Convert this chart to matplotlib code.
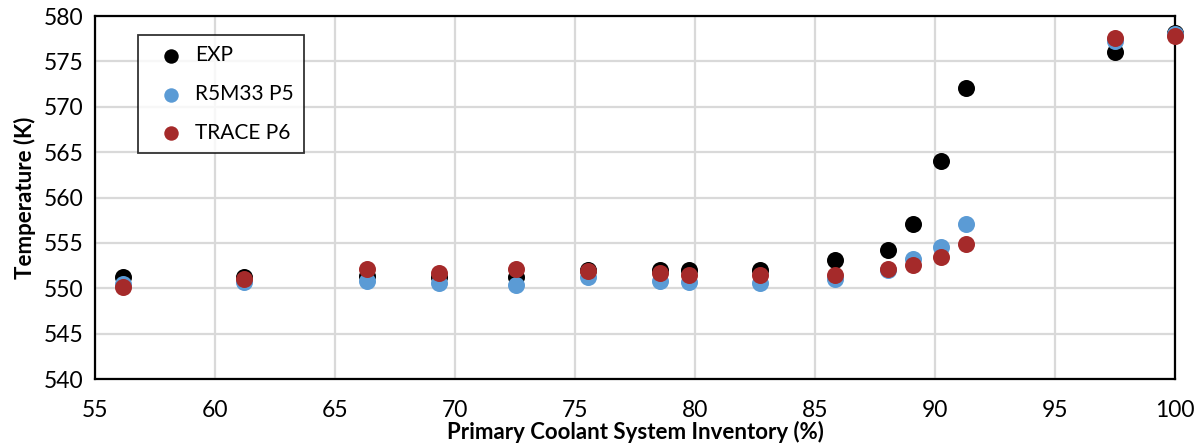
import matplotlib.pyplot as plt

# primary coolant system inventory (%) at each measurement point
inventory = [56.15, 61.2, 66.35, 69.35, 72.55, 75.55, 78.55, 79.75, 82.7,
             85.85, 88.05, 89.1, 90.25, 91.3, 97.5, 100.0]

exp_temp = [551.3, 551.2, 551.4, 551.3, 551.3, 552.0, 552.0, 552.0, 552.0,
            553.1, 554.2, 557.1, 564.0, 572.1, 576.0, 578.1]
r5_temp = [550.5, 550.7, 550.8, 550.6, 550.4, 551.2, 550.8, 550.7, 550.6,
           551.0, 552.0, 553.2, 554.6, 557.1, 577.2, 578.0]
trace_temp = [550.1, 551.0, 552.1, 551.7, 552.1, 551.9, 551.7, 551.5, 551.5,
              551.5, 552.1, 552.6, 553.5, 554.9, 577.6, 577.8]

plt.rcParams['font.family'] = ['Lato', 'DejaVu Sans']

fig = plt.figure(figsize=(12.02, 4.45), dpi=100)
ax = fig.add_axes([0.079, 0.148, 0.8985, 0.816])

size = 150
ax.scatter(inventory, exp_temp, s=size, color='black', label='EXP',
           zorder=3, linewidths=0, clip_on=False)
ax.scatter(inventory, r5_temp, s=size, color='#5b9bd5', label='R5M33 P5',
           zorder=4, linewidths=0, clip_on=False)
ax.scatter(inventory, trace_temp, s=size, color='#a52a2a', label='TRACE P6',
           zorder=5, linewidths=0, clip_on=False)

ax.set_xlim(55, 100)
ax.set_ylim(540, 580)
ax.set_xticks(range(55, 101, 5))
ax.set_yticks(range(540, 581, 5))
ax.grid(True, color='#d9d9d9', linewidth=1.6)
ax.set_axisbelow(True)

ax.tick_params(axis='x', length=0, labelsize=16.5, pad=15)
ax.tick_params(axis='y', length=0, labelsize=16.5, pad=8)
for side in ax.spines.values():
    side.set_color('black')
    side.set_linewidth(1.6)

ax.set_xlabel('Primary Coolant System Inventory (%)', fontsize=16,
              fontweight='bold', labelpad=0)
ax.set_ylabel('Temperature (K)', fontsize=16, fontweight='bold', labelpad=6)

leg = ax.legend(loc='upper left', bbox_to_anchor=(0.04, 0.948), fontsize=15,
                frameon=True, fancybox=False, edgecolor='black', markerscale=0.85,
                handletextpad=0.05, labelspacing=0.9, borderpad=0.5,
                handlelength=2.2, borderaxespad=0)
leg.get_frame().set_linewidth(1.3)

fig.savefig('out.png', dpi=100)
